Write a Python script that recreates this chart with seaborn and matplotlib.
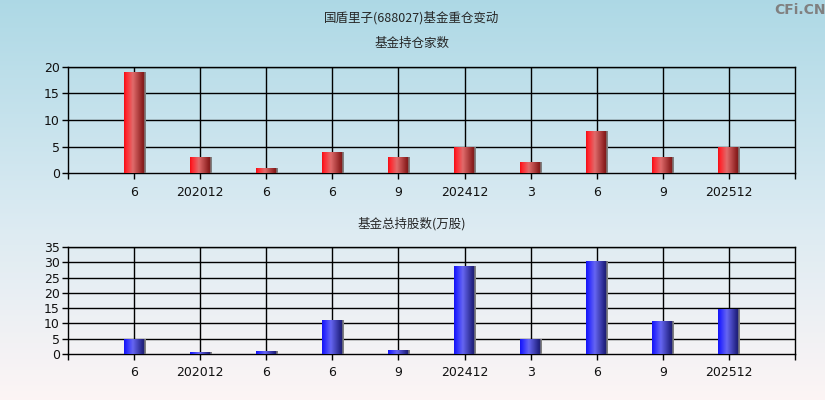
import numpy as np
import pandas as pd
import matplotlib
matplotlib.use("Agg")
import matplotlib.pyplot as plt
from matplotlib.colors import LinearSegmentedColormap
import seaborn as sns

# ---- data ----
tick_labels = ["6", "202012", "6", "6", "9", "202412", "3", "6", "9", "202512"]
fund_count = [19, 3, 1, 4, 3, 5, 2, 8, 3, 5]
fund_shares = [4.8, 0.65, 1.0, 11.1, 1.3, 28.8, 4.8, 30.4, 10.8, 14.8]

main_title = "国盾里子(688027)基金重仓变动"
title_top = "基金持仓家数"
title_bottom = "基金总持股数(万股)"

sns.set_theme(style="white")
plt.rcParams["font.family"] = ["DejaVu Sans", "Noto Sans CJK SC"]
cjk = ["Noto Sans CJK SC", "DejaVu Sans"]

W, H = 825, 400
fig = plt.figure(figsize=(W / 100, H / 100), dpi=100)

# background gradient
bg = fig.add_axes([0, 0, 1, 1], zorder=-10)
grad = np.linspace(0, 1, 256)[:, None]
bg_cmap = LinearSegmentedColormap.from_list(
    "bg", [(0, (0.68, 0.85, 0.90)), (0.55, (0.86, 0.92, 0.95)), (1, (0.99, 0.96, 0.96))])
bg.imshow(grad, aspect="auto", cmap=bg_cmap, extent=[0, 1, 0, 1])
bg.set_axis_off()

red_cmap = LinearSegmentedColormap.from_list(
    "r", [(0, (0.95, 0.05, 0.08)), (0.1, (1.0, 0.15, 0.18)), (0.4, (0.88, 0.42, 0.42)),
          (0.92, (0.50, 0.08, 0.08)), (0.93, (0.5, 0.5, 0.5)), (1, (0.5, 0.5, 0.5))])
blue_cmap = LinearSegmentedColormap.from_list(
    "b", [(0, (0.08, 0.08, 0.95)), (0.1, (0.15, 0.15, 1.0)), (0.4, (0.40, 0.40, 0.95)),
          (0.92, (0.10, 0.10, 0.45)), (0.93, (0.5, 0.5, 0.5)), (1, (0.5, 0.5, 0.5))])

n = len(tick_labels)
cats = [str(i) for i in range(n)]


def draw(ax, values, cmap, ymax, step):
    df = pd.DataFrame({"cat": cats, "val": values})
    sns.barplot(data=df, x="cat", y="val", order=cats, ax=ax, width=0.32,
                color="red", saturation=1, edgecolor="none", zorder=3)
    hgrad = np.linspace(0, 1, 64)[None, :]
    for p in list(ax.patches):
        x0, y0 = p.get_x(), p.get_y()
        w, h = p.get_width(), p.get_height()
        p.set_facecolor("none")
        im = ax.imshow(hgrad, cmap=cmap, aspect="auto",
                       extent=[x0, x0 + w, y0, y0 + h], zorder=3, interpolation="bilinear")
        im.set_clip_path(p)
    ax.set_xlim(-1, n)
    ax.set_ylim(0, ymax)
    ax.set_facecolor("none")
    ax.set_yticks(np.arange(0, ymax + 0.1, step))
    ax.set_xticks(range(n))
    ax.set_xticklabels(tick_labels)
    ax.set_xticks([-1, n], minor=True)
    for x in range(n):
        ax.axvline(x, color="black", lw=1, zorder=1)
    for y in np.arange(step, ymax + 0.1, step):
        ax.axhline(y, color="black", lw=1, zorder=1)
    for s in ax.spines.values():
        s.set_visible(True)
        s.set_color("black")
        s.set_linewidth(1)
    ax.tick_params(axis="both", which="both", direction="out", length=4, width=1,
                   color="black", labelsize=9, labelcolor="#111111", pad=2,
                   bottom=True, left=True)
    ax.tick_params(axis="x", which="major", pad=5)
    ax.set_xlabel("")
    ax.set_ylabel("")


ax1 = fig.add_axes([68 / W, 1 - 173 / H, 727 / W, 106 / H])
draw(ax1, fund_count, red_cmap, 20, 5)
ax2 = fig.add_axes([68 / W, 1 - 354 / H, 727 / W, 107 / H])
draw(ax2, fund_shares, blue_cmap, 35, 5)

fig.text(412 / W, 1 - 18 / H, main_title, ha="center", va="center", fontsize=9, family=cjk)
fig.text(412 / W, 1 - 43 / H, title_top, ha="center", va="center", fontsize=9, family=cjk)
fig.text(412 / W, 1 - 224 / H, title_bottom, ha="center", va="center", fontsize=9, family=cjk)
fig.text(800 / W, 1 - 10 / H, "CFi.CN", ha="center", va="center", fontsize=10,
         color="#808080", fontweight="bold")

fig.savefig("out.png", dpi=100)
